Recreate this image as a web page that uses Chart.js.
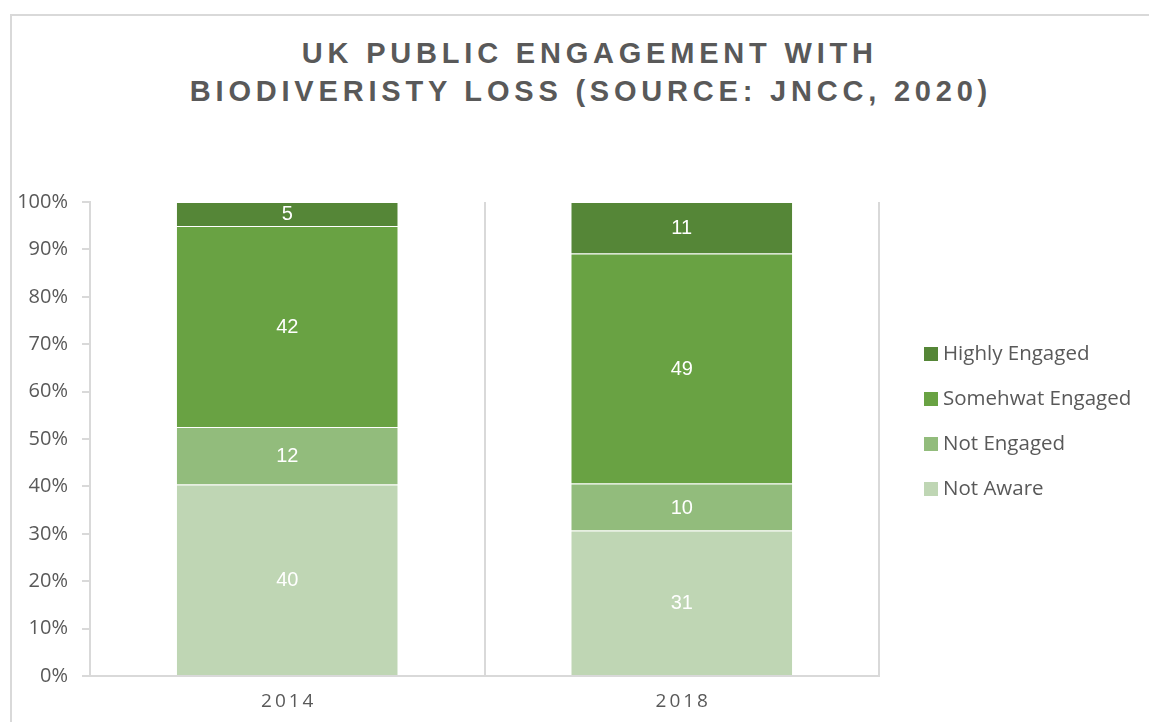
<!DOCTYPE html>
<html>
<head>
<meta charset="utf-8">
<script src="https://cdn.jsdelivr.net/npm/chart.js@4/dist/chart.umd.min.js"></script>
<style>
  html, body { margin: 0; padding: 0; background: #fff; }
  body { width: 1149px; height: 722px; position: relative; overflow: hidden; }
  .frame {
    position: absolute; left: 10px; top: 14px; width: 1200px; height: 800px;
    border: 2px solid #d9d9d9; box-sizing: border-box;
  }
  .title {
    position: absolute; left: 185px; width: 800px; margin: 0;
    text-align: center; white-space: nowrap; padding-left: 4.8px;
    font: bold 29px "Liberation Sans", Arial, sans-serif;
    letter-spacing: 4.8px; color: #595959;
  }
  #t1 { top: 37px; }
  #t2 { top: 75px; }
  canvas { position: absolute; left: 0; top: 0; }
</style>
</head>
<body>
<div class="frame"></div>
<div class="title" id="t1">UK PUBLIC ENGAGEMENT WITH</div>
<div class="title" id="t2">BIODIVERISTY LOSS (SOURCE: JNCC, 2020)</div>
<canvas id="myChart" width="1149" height="722"></canvas>
<script>
// survey years
const years = ["2014", "2018"];

// respondents per group (%), bottom of the stack first
const notAware = [40, 31];
const notEngaged = [12, 10];
const somewhatEngaged = [42, 49];
const highlyEngaged = [5, 11];

const groups = [
  { label: "Not Aware", values: notAware, color: "#bfd6b4" },
  { label: "Not Engaged", values: notEngaged, color: "#92bc7c" },
  { label: "Somehwat Engaged", values: somewhatEngaged, color: "#69a243" },
  { label: "Highly Engaged", values: highlyEngaged, color: "#558637" }
];

// the columns are 100% stacked, so each year is scaled by its own total
const totals = years.map((y, i) => groups.reduce((s, g) => s + g.values[i], 0));

const textGrey = "#595959";
const lineGrey = "#d9d9d9";

// white value labels in the middle of each segment
const segmentLabels = {
  id: "segmentLabels",
  afterDatasetsDraw(chart) {
    const ctx = chart.ctx;
    ctx.save();
    ctx.fillStyle = "#fff";
    ctx.font = '20px "Liberation Sans", Arial, sans-serif';
    ctx.textAlign = "center";
    ctx.textBaseline = "middle";
    chart.data.datasets.forEach((ds, di) => {
      chart.getDatasetMeta(di).data.forEach((bar, i) => {
        ctx.fillText(ds.raw[i], bar.x, (bar.y + bar.base) / 2 + 1);
      });
    });
    ctx.restore();
  }
};

// year labels under the columns, spaced out a little
const yearLabels = {
  id: "yearLabels",
  afterDraw(chart) {
    const ctx = chart.ctx;
    const xs = chart.scales.x;
    ctx.save();
    ctx.fillStyle = textGrey;
    ctx.font = '19px "Open Sans", sans-serif';
    ctx.letterSpacing = "3px";
    ctx.textAlign = "center";
    ctx.textBaseline = "middle";
    chart.data.labels.forEach((lab, i) => {
      ctx.fillText(lab, xs.getPixelForValue(i) + 1.5, chart.chartArea.bottom + 26);
    });
    ctx.restore();
  }
};

// legend on the right, top entry is the top of the stack
const sideLegend = {
  id: "sideLegend",
  afterDraw(chart) {
    const ctx = chart.ctx;
    const items = chart.data.datasets.slice().reverse();
    ctx.save();
    ctx.font = '20.5px "Open Sans", sans-serif';
    ctx.textBaseline = "middle";
    items.forEach((ds, k) => {
      const cy = 354 + k * 45;
      ctx.fillStyle = ds.backgroundColor;
      ctx.fillRect(924, cy - 7, 14, 14);
      ctx.fillStyle = textGrey;
      ctx.fillText(ds.label, 943, cy);
    });
    ctx.restore();
  }
};

new Chart(document.getElementById("myChart"), {
  type: "bar",
  data: {
    labels: years,
    datasets: groups.map(g => ({
      label: g.label,
      raw: g.values,
      data: g.values.map((v, i) => v / totals[i] * 100),
      backgroundColor: g.color,
      borderColor: "rgba(255,255,255,0.3)",
      borderWidth: { top: 1 },
      borderSkipped: false,
      barPercentage: 0.56,
      categoryPercentage: 1
    }))
  },
  options: {
    responsive: false,
    animation: false,
    layout: { padding: { left: 10, top: 202, right: 270, bottom: 0 } },
    plugins: {
      legend: { display: false },
      title: { display: false },
      tooltip: { enabled: false }
    },
    scales: {
      x: {
        stacked: true,
        ticks: { display: false },
        grid: { offset: true, color: lineGrey, lineWidth: 2, drawTicks: false },
        border: { color: lineGrey, width: 2 },
        afterFit: s => { s.height = 46; }
      },
      y: {
        stacked: true,
        min: 0,
        max: 100,
        ticks: {
          stepSize: 10,
          padding: 14,
          color: textGrey,
          font: { family: "Open Sans", size: 20 },
          callback: v => v + "%"
        },
        grid: { drawOnChartArea: false, color: lineGrey, lineWidth: 2, tickLength: 8 },
        border: { color: lineGrey, width: 2 },
        afterFit: s => { s.width = 80; }
      }
    }
  },
  plugins: [segmentLabels, yearLabels, sideLegend]
});
</script>
</body>
</html>
